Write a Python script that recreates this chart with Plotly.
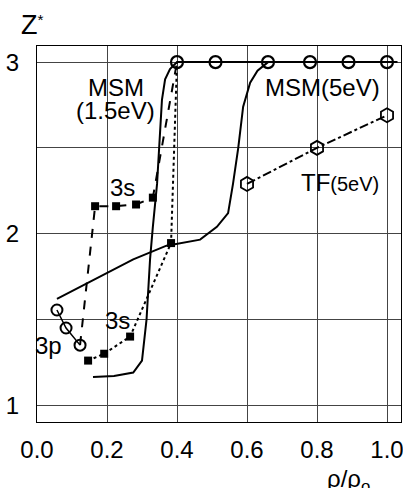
import plotly.graph_objects as go

# MSM(1.5eV) solid curve
msm15_x = [0.16, 0.22, 0.275, 0.30, 0.313, 0.323, 0.331, 0.343, 0.357, 0.366, 0.38, 0.40, 0.51, 0.66, 0.78, 0.89, 1.0, 1.03]
msm15_y = [1.165, 1.17, 1.19, 1.26, 1.50, 1.85, 2.04, 2.29, 2.78, 2.90, 2.96, 3.0, 3.0, 3.0, 3.0, 3.0, 3.0, 3.0]

# MSM(5eV) solid curve
msm5_x = [0.057, 0.2, 0.275, 0.37, 0.41, 0.466, 0.514, 0.546, 0.56, 0.575, 0.589, 0.609, 0.63, 0.66]
msm5_y = [1.62, 1.77, 1.85, 1.93, 1.945, 1.965, 2.04, 2.12, 2.29, 2.50, 2.74, 2.88, 2.95, 3.0]

# MSM open circles at Z*=3
circ_x = [0.40, 0.51, 0.66, 0.78, 0.89, 1.0]
circ_y = [3.0, 3.0, 3.0, 3.0, 3.0, 3.0]

# 3p circles
p3_x = [0.057, 0.083, 0.123]
p3_y = [1.555, 1.45, 1.35]

# dashed: 3p -> 3s (upper) -> 3
dash_x = [0.123, 0.166, 0.226, 0.283, 0.331, 0.40]
dash_y = [1.35, 2.16, 2.16, 2.17, 2.21, 3.0]
sq_up_x = [0.166, 0.226, 0.283, 0.331]
sq_up_y = [2.16, 2.16, 2.17, 2.21]

# dotted: 3s (lower) -> 3
dot_x = [0.146, 0.192, 0.266, 0.383, 0.40]
dot_y = [1.26, 1.30, 1.40, 1.945, 3.0]
sq_lo_x = [0.146, 0.192, 0.266, 0.383]
sq_lo_y = [1.26, 1.30, 1.40, 1.945]

# TF(5eV) hexagons
tf_x = [0.60, 0.80, 1.0]
tf_y = [2.29, 2.50, 2.69]

x_ticks = [0.0, 0.2, 0.4, 0.6, 0.8, 1.0]
x_ticktext = ["0.0", "0.2", "0.4", "0.6", "0.8", "1.0"]
y_ticks = [1, 1.5, 2, 2.5, 3]
y_ticktext = ["1", "", "2", "", "3"]

FONT = "Liberation Sans, Arial, sans-serif"
fig = go.Figure()

fig.add_trace(go.Scatter(x=msm15_x, y=msm15_y, mode="lines",
                         line=dict(color="black", width=2), showlegend=False))
fig.add_trace(go.Scatter(x=msm5_x, y=msm5_y, mode="lines",
                         line=dict(color="black", width=2), showlegend=False))
fig.add_trace(go.Scatter(x=dash_x, y=dash_y, mode="lines",
                         line=dict(color="black", width=2, dash="dash"), showlegend=False))
fig.add_trace(go.Scatter(x=p3_x, y=p3_y, mode="lines+markers",
                         line=dict(color="black", width=1.5),
                         marker=dict(symbol="circle-open", size=11, color="black",
                                     line=dict(width=2, color="black")),
                         showlegend=False))
fig.add_trace(go.Scatter(x=dot_x, y=dot_y, mode="lines",
                         line=dict(color="black", width=2, dash="dot"), showlegend=False))
fig.add_trace(go.Scatter(x=sq_up_x, y=sq_up_y, mode="markers",
                         marker=dict(symbol="square", size=8, color="black"), showlegend=False))
fig.add_trace(go.Scatter(x=sq_lo_x, y=sq_lo_y, mode="markers",
                         marker=dict(symbol="square", size=8, color="black"), showlegend=False))
fig.add_trace(go.Scatter(x=circ_x, y=circ_y, mode="markers",
                         marker=dict(symbol="circle-open", size=12, color="black",
                                     line=dict(width=2.2, color="black")),
                         showlegend=False))
fig.add_trace(go.Scatter(x=tf_x, y=tf_y, mode="lines+markers",
                         line=dict(color="black", width=2, dash="dashdot"),
                         marker=dict(symbol="hexagon-open", size=14, color="black",
                                     line=dict(width=1.8, color="black")),
                         showlegend=False))

ann_font = dict(family=FONT, size=24, color="black")
anns = [
    dict(x=0.226, y=2.855, text="MSM"),
    dict(x=0.223, y=2.72, text="(1.5eV)"),
    dict(x=0.817, y=2.85, text="MSM(5eV)"),
    dict(x=0.243, y=2.27, text="3s"),
    dict(x=0.229, y=1.495, text="3s"),
    dict(x=0.034, y=1.35, text="3p"),
    dict(x=0.866, y=2.30, text="TF<span style='font-size:20px'>(5eV)</span>"),
]
for a in anns:
    fig.add_annotation(x=a["x"], y=a["y"], text=a["text"], showarrow=False,
                       xref="x", yref="y", font=ann_font)

fig.add_annotation(x=-0.05, y=1.10, xref="paper", yref="paper",
                   xanchor="left", yanchor="top",
                   text="Z<span style='font-size:22px'><sup>*</sup></span>", showarrow=False,
                   font=dict(family=FONT, size=27, color="black"))
fig.add_annotation(x=0.79, y=-0.11, xref="paper", yref="paper",
                   xanchor="left", yanchor="top",
                   text="ρ/ρ<sub>o</sub>", showarrow=False,
                   font=dict(family=FONT, size=24, color="black"))

fig.update_xaxes(range=[0, 1.04], tickvals=x_ticks, ticktext=x_ticktext,
                 showgrid=True, gridcolor="#444", gridwidth=1,
                 showline=True, linecolor="black", linewidth=1.2, mirror=True,
                 zeroline=False, ticks="", ticklabelstandoff=6, automargin=False,
                 ticklabeloverflow="allow",
                 tickfont=dict(family=FONT, size=24, color="black"))
fig.update_yaxes(range=[0.902, 3.094], tickvals=y_ticks, ticktext=y_ticktext,
                 showgrid=True, gridcolor="#444", gridwidth=1,
                 showline=True, linecolor="black", linewidth=1.2, mirror=True,
                 zeroline=False, ticks="", ticklabelstandoff=12, automargin=False,
                 ticklabeloverflow="allow",
                 tickfont=dict(family=FONT, size=24, color="black"))

fig.update_layout(width=403, height=488,
                  margin=dict(l=37, r=2, t=46, b=66),
                  paper_bgcolor="white", plot_bgcolor="white",
                  showlegend=False)

fig.write_html("out.html", config={"displayModeBar": False},
               post_script="document.body.style.margin='0';document.body.style.overflow='hidden';")
